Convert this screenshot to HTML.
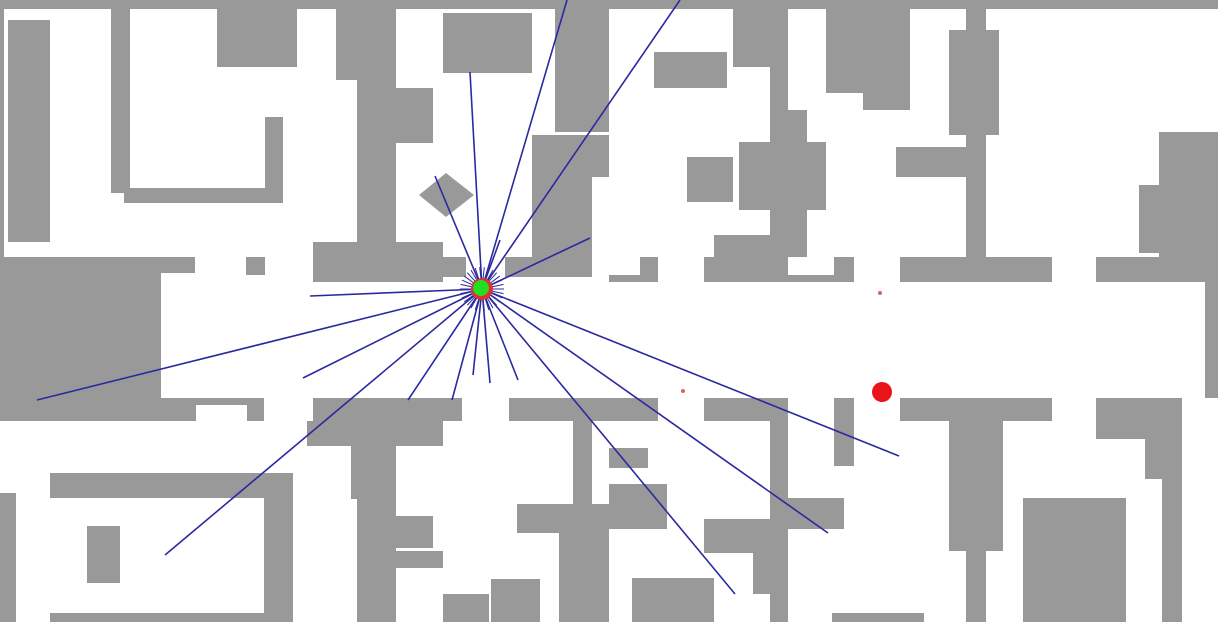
<!DOCTYPE html>
<html><head><meta charset="utf-8"><style>
html,body{margin:0;padding:0;background:#fff;width:1218px;height:622px;overflow:hidden}
svg{display:block}
</style></head><body>
<svg id="map" width="1218" height="622" viewBox="0 0 1218 622" xmlns="http://www.w3.org/2000/svg">
<rect width="1218" height="622" fill="#fff"/>
<g id="walls" fill="#999999"></g>
<rect x="592" y="177" width="17" height="100" fill="#fff"/>
<polygon points="446,173 474,195 446,217 419,195" fill="#999999"/>
<g id="rays" stroke="#2a2aa0" stroke-width="1.6"></g>
<circle cx="882" cy="392" r="10" fill="#e8141a"/>
<circle cx="880" cy="293" r="2" fill="#e06060"/>
<circle cx="683" cy="391" r="2" fill="#e06060"/>
<circle cx="482" cy="289" r="11" fill="#e03030"/>
<circle cx="481" cy="288" r="8" fill="#22dd22"/>
</svg>
<script>
const walls=[
[0,0,1218,9],[0,0,4,258],[8,20,50,242],[111,9,130,193],[124,188,283,203],[265,117,283,200],
[217,9,297,67],[336,9,396,80],[357,80,396,282],[313,242,443,282],[396,88,433,143],[443,13,532,73],
[555,9,609,132],[532,135,609,277],[0,257,161,311],[161,257,195,273],[246,257,265,275],[443,257,466,277],[505,257,609,277],
[733,9,770,67],[770,9,788,282],[654,52,727,88],[687,157,733,202],[739,142,826,210],[788,110,807,257],
[714,235,770,282],[704,257,788,282],[640,257,658,282],[609,275,658,282],[834,257,854,282],[788,275,854,282],
[826,9,910,93],[863,93,910,110],[900,257,1052,282],[896,147,966,177],[966,0,986,282],[949,30,999,135],
[1096,257,1218,282],[1159,132,1218,257],[1139,185,1159,253],[1205,282,1218,311],
[0,311,161,398],[0,398,196,421],[196,398,264,405],[247,405,264,421],
[313,398,462,421],[307,421,443,446],[351,446,396,499],[357,446,396,622],[396,516,433,548],[396,551,443,568],
[509,398,609,421],[517,504,609,533],[573,398,592,622],[559,533,609,622],
[0,493,16,622],[50,473,293,498],[264,498,293,622],[50,613,293,622],[87,526,120,583],
[443,594,489,622],[491,579,540,622],
[609,398,658,421],[609,448,648,468],[609,484,667,529],[704,398,788,421],[770,398,788,622],[788,498,844,529],
[704,519,770,553],[753,553,770,594],[834,398,854,466],[632,578,714,622],[832,613,924,622],
[900,398,1052,421],[949,421,1003,551],[966,551,986,622],[1023,498,1126,622],
[1096,398,1180,439],[1145,439,1180,479],[1162,398,1182,622],[1205,311,1218,398]
];
const rayEndX=[567,680,470,435,590,500,310,37,303,165,408,452,473,490,518,735,828,899];
const rayEndY=[0,0,72,176,238,240,296,400,378,555,400,400,375,383,380,594,533,456];
const cx=482, cy=289;
const NS='http://www.w3.org/2000/svg';
const wg=document.getElementById('walls');
walls.forEach(w=>{
  const r=document.createElementNS(NS,'rect');
  r.setAttribute('x',w[0]);r.setAttribute('y',w[1]);
  r.setAttribute('width',w[2]-w[0]);r.setAttribute('height',w[3]-w[1]);
  
  
  wg.appendChild(r);
});
const rg=document.getElementById('rays');
for(let i=0;i<rayEndX.length;i++){
  const l=document.createElementNS(NS,'line');
  l.setAttribute('x1',cx);l.setAttribute('y1',cy);
  l.setAttribute('x2',rayEndX[i]);l.setAttribute('y2',rayEndY[i]);
  
  
  rg.appendChild(l);
}
for(let a=0;a<360;a+=12){
  const t=a*Math.PI/180;
  const l=document.createElementNS(NS,'line');
  l.setAttribute('x1',cx);l.setAttribute('y1',cy);
  l.setAttribute('x2',cx+22*Math.cos(t));l.setAttribute('y2',cy+22*Math.sin(t));
  l.setAttribute('stroke-width','1');
  
  
  rg.appendChild(l);
}
</script>
</body></html>
